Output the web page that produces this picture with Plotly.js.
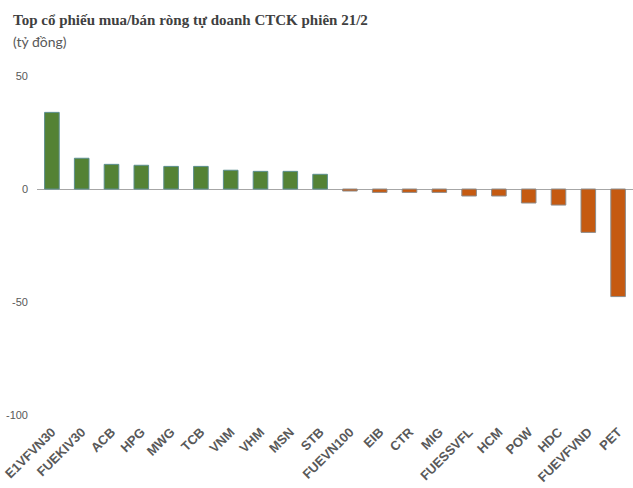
<!DOCTYPE html>
<html>
<head>
<meta charset="utf-8">
<script src="https://cdn.plot.ly/plotly-3.0.1.min.js"></script>
<style>html,body{margin:0;padding:0;background:#fff;}#chart{width:633px;height:488px;}</style>
</head>
<body>
<div id="chart"></div>
<script>
const categories = ["E1VFVN30","FUEKIV30","ACB","HPG","MWG","TCB","VNM","VHM","MSN","STB",
  "FUEVN100","EIB","CTR","MIG","FUESSVFL","HCM","POW","HDC","FUEVFVND","PET"];
const values = [33.9,13.6,10.9,10.5,10.0,10.0,8.3,7.8,7.8,6.5,
  -0.9,-1.5,-1.5,-1.5,-3.1,-3.1,-6.2,-7.1,-19.2,-47.6];
const yTicks = [-100,-50,0,50];
const titleText = "Top cổ phiếu mua/bán ròng tự doanh CTCK phiên 21/2";
const subtitleText = "(tỷ đồng)";

const fillColors = values.map(v => v >= 0 ? "#548235" : "#c55a11");
const lineColors = values.map(v => v >= 0 ? "#5b8e8e" : "#8c8c8c");

const trace = {
  type: "bar",
  x: categories,
  y: values,
  marker: {color: fillColors, line: {color: lineColors, width: 1}},
  hoverinfo: "x+y"
};

const layout = {
  width: 633, height: 488,
  margin: {l: 37, r: 0, t: 76, b: 73},
  paper_bgcolor: "#fff", plot_bgcolor: "#fff",
  showlegend: false,
  bargap: 0.51,
  font: {family: "Liberation Sans, Arial, sans-serif", color: "#595959", size: 11},
  xaxis: {
    type: "category",
    tickangle: -45,
    tickfont: {family: "Liberation Sans, Arial, sans-serif", size: 13, color: "#595959", weight: "bold"},
    showgrid: false, showline: false, zeroline: false, ticks: "",
    ticklabelstandoff: 6
  },
  yaxis: {
    range: [-100, 50],
    tickvals: yTicks,
    ticktext: yTicks.map(String),
    showgrid: false, showline: false,
    zeroline: true, zerolinecolor: "#a6a6a6", zerolinewidth: 1,
    ticks: "",
    tickfont: {size: 11, color: "#595959"},
    ticklabelstandoff: 8
  },
  annotations: [
    {text: "<b>" + titleText + "</b>", xref: "paper", yref: "paper", x: 0, y: 1, xanchor: "left", yanchor: "top",
     showarrow: false, font: {family: "Liberation Serif, Times New Roman, serif", size: 15, color: "#404040"}},
    {text: subtitleText, xref: "paper", yref: "paper", x: 0, y: 1, xanchor: "left", yanchor: "top",
     showarrow: false, font: {family: "Lato, Liberation Sans, sans-serif", size: 14, color: "#595959"}}
  ]
};
const plotH = 488 - 76 - 73, plotW = 633 - 37;
layout.annotations[0].x = (11 - 37) / plotW;
layout.annotations[0].y = 1 + (76 - 10) / plotH;
layout.annotations[1].x = (11 - 37) / plotW;
layout.annotations[1].y = 1 + (76 - 31) / plotH;

Plotly.newPlot("chart", [trace], layout, {displayModeBar: false, staticPlot: true});
</script>
</body>
</html>
